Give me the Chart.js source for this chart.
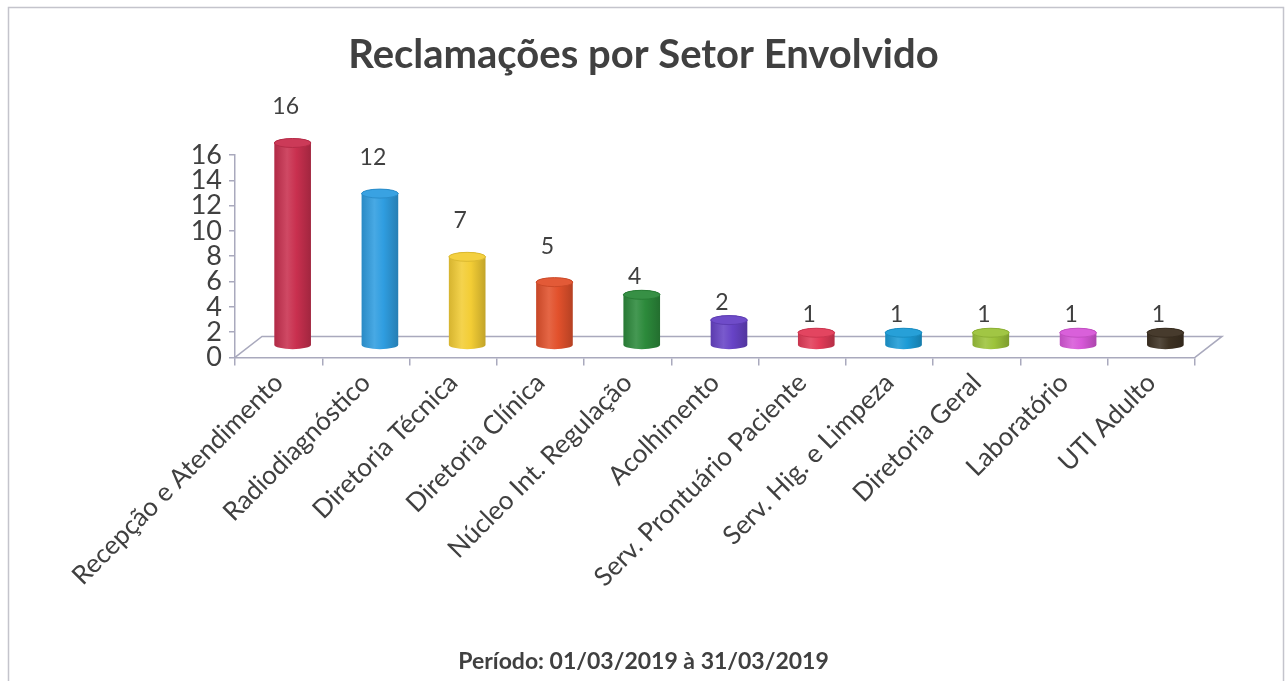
<!DOCTYPE html>
<html>
<head>
<meta charset="utf-8">
<script src="https://cdn.jsdelivr.net/npm/chart.js@4/dist/chart.umd.min.js"></script>
<style>
  html, body { margin: 0; padding: 0; background: #fff; }
  #caixa { width: 1287px; height: 681px; position: relative; }
</style>
</head>
<body>
<div id="caixa"><canvas id="graficoSetores"></canvas></div>
<script>
const setores = [
  "Recepção e Atendimento", "Radiodiagnóstico", "Diretoria Técnica",
  "Diretoria Clínica", "Núcleo Int. Regulação", "Acolhimento",
  "Serv. Prontuário Paciente", "Serv. Hig. e Limpeza", "Diretoria Geral",
  "Laboratório", "UTI Adulto"
];
const reclamacoes = [16, 12, 7, 5, 4, 2, 1, 1, 1, 1, 1];
const coresBarras = [
  "#c9304f", "#2f9de0", "#f3cd35", "#e2512c", "#2c8a3b", "#6743c6",
  "#e23b58", "#1c9bd6", "#9cc33a", "#d758d8", "#3d3122"
];
const ticksY = [0, 2, 4, 6, 8, 10, 12, 14, 16];

const corTexto = "#404040";
const corEixo = "#a9a9bd";
// deslocamento do "fundo" 3D
const fundoDx = 27, fundoDy = -21;
const barraDx = 14, barraDy = -12;

function clarear(hex, f) {
  const n = parseInt(hex.slice(1), 16);
  let r = (n >> 16) & 255, g = (n >> 8) & 255, b = n & 255;
  if (f >= 0) {
    r += (255 - r) * f; g += (255 - g) * f; b += (255 - b) * f;
  } else {
    r *= 1 + f; g *= 1 + f; b *= 1 + f;
  }
  return "rgb(" + Math.round(r) + "," + Math.round(g) + "," + Math.round(b) + ")";
}

const moldura = {
  id: "moldura",
  beforeDraw(chart) {
    const ctx = chart.ctx;
    ctx.save();
    ctx.fillStyle = "#fff";
    ctx.fillRect(0, 0, chart.width, chart.height);
    ctx.strokeStyle = "#c4c4cc";
    ctx.lineWidth = 1.5;
    ctx.strokeRect(8.5, 7.5, chart.width - 12, chart.height + 10);
    ctx.restore();
  }
};

const piso3d = {
  id: "piso3d",
  beforeDatasetsDraw(chart) {
    const ctx = chart.ctx;
    const y = chart.scales.y, x = chart.scales.x;
    const y0 = y.getPixelForValue(0);
    const esq = x.left, dir = x.right;
    ctx.save();
    ctx.strokeStyle = corEixo;
    ctx.lineWidth = 1.5;
    ctx.beginPath();
    ctx.moveTo(esq, y0);
    ctx.lineTo(esq + fundoDx, y0 + fundoDy);
    ctx.lineTo(dir + fundoDx, y0 + fundoDy);
    ctx.lineTo(dir, y0);
    ctx.stroke();
    ctx.restore();
  }
};

const cilindros = {
  id: "cilindros",
  afterDatasetsDraw(chart) {
    const ctx = chart.ctx;
    const meta = chart.getDatasetMeta(0);
    meta.data.forEach((bar, i) => {
      const rx = bar.width / 2, ry = 4.5;
      const cx = bar.x + barraDx;
      const topo = bar.y + barraDy, base = bar.base + barraDy;
      const cor = coresBarras[i];
      const grad = ctx.createLinearGradient(cx - rx, 0, cx + rx, 0);
      grad.addColorStop(0, clarear(cor, -0.12));
      grad.addColorStop(0.35, clarear(cor, 0.12));
      grad.addColorStop(0.6, cor);
      grad.addColorStop(1, clarear(cor, -0.2));
      ctx.save();
      ctx.beginPath();
      ctx.moveTo(cx - rx, topo);
      ctx.lineTo(cx - rx, base);
      ctx.ellipse(cx, base, rx, ry, 0, Math.PI, 0, true);
      ctx.lineTo(cx + rx, topo);
      ctx.ellipse(cx, topo, rx, ry, 0, 0, Math.PI, true);
      ctx.closePath();
      ctx.fillStyle = grad;
      ctx.fill();
      ctx.beginPath();
      ctx.ellipse(cx, topo, rx, ry, 0, 0, Math.PI * 2);
      ctx.fillStyle = clarear(cor, 0.05);
      ctx.fill();
      ctx.strokeStyle = clarear(cor, -0.1);
      ctx.lineWidth = 1;
      ctx.stroke();

      // rótulo do valor
      const v = reclamacoes[i];
      const dist = v >= 5 ? 36 : 18;
      ctx.fillStyle = corTexto;
      ctx.font = "23px Lato";
      ctx.textAlign = "center";
      ctx.textBaseline = "middle";
      ctx.fillText(String(v), cx - 7, topo - dist);
      ctx.restore();
    });
  }
};

const ctx = document.getElementById("graficoSetores").getContext("2d");
new Chart(ctx, {
  type: "bar",
  data: {
    labels: setores,
    datasets: [{
      label: "Reclamações",
      data: reclamacoes,
      backgroundColor: "rgba(0,0,0,0)",
      borderWidth: 0,
      barPercentage: 0.42,
      categoryPercentage: 1
    }]
  },
  options: {
    responsive: true,
    maintainAspectRatio: false,
    animation: false,
    layout: { padding: 0 },
    plugins: {
      legend: { display: false },
      tooltip: { enabled: false },
      title: {
        display: true,
        text: "Reclamações por Setor Envolvido",
        color: corTexto,
        font: { family: "Lato", size: 40, weight: "bold" },
        padding: { top: 31, bottom: 76 }
      },
      subtitle: {
        display: true,
        position: "bottom",
        text: "Período: 01/03/2019 à 31/03/2019",
        color: corTexto,
        font: { family: "Lato", size: 23, weight: "bold" },
        padding: { top: 0, bottom: 6 }
      }
    },
    scales: {
      x: {
        afterFit: (s) => { s.height = 290; },
        grid: {
          offset: true,
          drawOnChartArea: false,
          color: corEixo,
          lineWidth: 1.5,
          tickLength: 8
        },
        border: { color: corEixo, width: 1.5 },
        ticks: {
          color: corTexto,
          font: { family: "Lato", size: 26 },
          minRotation: 45,
          maxRotation: 45,
          padding: 2,
          autoSkip: false
        }
      },
      y: {
        min: 0,
        max: 16,
        afterFit: (s) => { s.width = 235; },
        afterBuildTicks: (s) => { s.ticks = ticksY.map((v) => ({ value: v })); },
        grid: {
          drawOnChartArea: false,
          color: corEixo,
          lineWidth: 1.5,
          tickLength: 6
        },
        border: { color: corEixo, width: 1.5 },
        ticks: {
          color: corTexto,
          font: { family: "Lato", size: 27 },
          padding: 7,
          autoSkip: false
        }
      },
      direita: {
        position: "right",
        display: true,
        afterFit: (s) => { s.width = 92; },
        grid: { display: false, drawTicks: false },
        border: { display: false },
        ticks: { display: false }
      }
    }
  },
  plugins: [moldura, piso3d, cilindros]
});
</script>
</body>
</html>
